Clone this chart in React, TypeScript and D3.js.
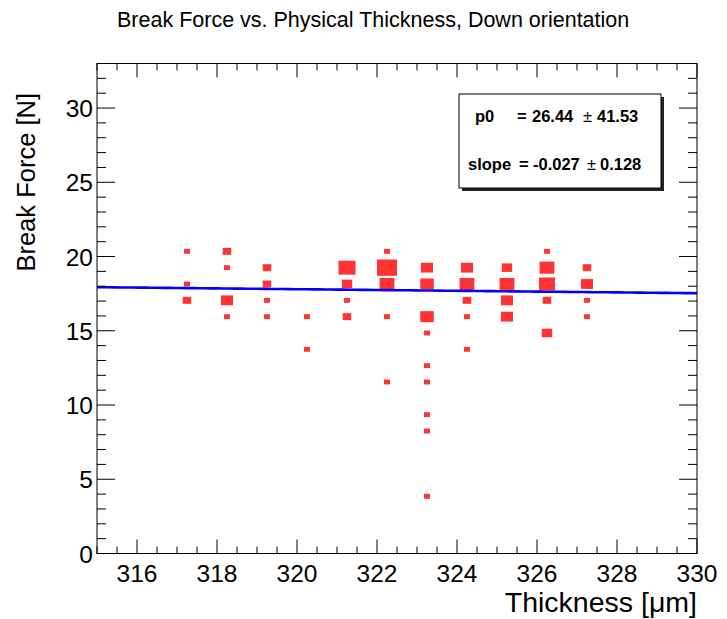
import React from 'react';
import * as d3 from 'd3';

const TITLE = 'Break Force vs. Physical Thickness, Down orientation';
const X_TITLE = 'Thickness [\u03bcm]';
const Y_TITLE = 'Break Force [N]';

const xDomain = [315, 330];
const yDomain = [0, 33];
const xBinWidth = 0.5;
const yBinWidth = 1.1;

const xTicks = [316, 318, 320, 322, 324, 326, 328, 330];
const yTicks = [0, 5, 10, 15, 20, 25, 30];

const cellThickness = [
  317.25, 317.25, 317.25,
  318.25, 318.25, 318.25, 318.25,
  319.25, 319.25, 319.25, 319.25,
  320.25, 320.25,
  321.25, 321.25, 321.25, 321.25,
  322.25, 322.25, 322.25, 322.25, 322.25,
  323.25, 323.25, 323.25, 323.25, 323.25, 323.25, 323.25, 323.25, 323.25,
  324.25, 324.25, 324.25, 324.25, 324.25,
  325.25, 325.25, 325.25, 325.25,
  326.25, 326.25, 326.25, 326.25, 326.25,
  327.25, 327.25, 327.25, 327.25,
];
const cellForce = [
  20.35, 18.15, 17.05,
  20.35, 19.25, 17.05, 15.95,
  19.25, 18.15, 17.05, 15.95,
  15.95, 13.75,
  19.25, 18.15, 17.05, 15.95,
  20.35, 19.25, 18.15, 15.95, 11.55,
  19.25, 18.15, 15.95, 14.85, 12.65, 11.55, 9.35, 8.25, 3.85,
  19.25, 18.15, 17.05, 15.95, 13.75,
  19.25, 18.15, 17.05, 15.95,
  20.35, 19.25, 18.15, 17.05, 14.85,
  19.25, 18.15, 17.05, 15.95,
];
const cellCount = [
  1, 1, 2,
  2, 1, 4, 1,
  2, 2, 1, 1,
  1, 1,
  8, 3, 1, 2,
  1, 11, 6, 1, 1,
  4, 5, 5, 1, 1, 1, 1, 1, 1,
  4, 6, 2, 1, 1,
  3, 6, 4, 4,
  1, 6, 7, 2, 3,
  2, 4, 1, 1,
];

const fitP0 = 26.44;
const fitSlope = -0.027;
const statNames = ['p0', 'slope'];
const statValues = ['26.44', '-0.027'];
const statErrors = ['41.53', '0.128'];

const W = 727;
const H = 619;
const M = { left: 97, right: 697, top: 63.5, bottom: 553.5 };

// text placement inside the stats box (layout only)
const statRowY = [122, 170];
const statNameX = [475, 468];
const statEqX = [517, 519];
const statValX = [532, 533];
const statPmX = [583, 587];
const statErrX = [597, 600];

export default function App() {
  const x = d3.scaleLinear().domain(xDomain).range([M.left, M.right]);
  const y = d3.scaleLinear().domain(yDomain).range([M.bottom, M.top]);
  const maxCount = d3.max(cellCount) as number;

  const xMinor = d3.range(xDomain[0], xDomain[1] + 0.001, 0.5);
  const yMinor = d3.range(yDomain[0], yDomain[1] + 0.001, 1);

  const line = d3.line<number>().x((d) => x(d)).y((d) => y(fitP0 + fitSlope * d));
  const fitXs = d3.range(xDomain[0], xDomain[1] + 0.001, 0.15);

  const font = 'Liberation Sans, Arial, Helvetica, sans-serif';
  const bw = x(xDomain[0] + xBinWidth) - x(xDomain[0]);
  const bh = y(0) - y(yBinWidth);

  const xMajLen = 14, xMinLen = 7, yMajLen = 18, yMinLen = 9;

  return (
    <svg width={W} height={H} style={{ position: 'absolute', left: 0, top: 0, background: '#fff' }}>
      <rect x={0} y={0} width={W} height={H} fill="#fff" />
      <text x={117} y={27} fontFamily={font} fontSize={21.5} fill="#000">{TITLE}</text>

      {cellCount.map((c, i) => {
        const r = Math.sqrt(c / maxCount);
        const w = bw * r, h = bh * r;
        return (
          <rect key={i} x={x(cellThickness[i]) - w / 2} y={y(cellForce[i]) - h / 2}
            width={w} height={h} fill="#ff3333" />
        );
      })}

      <path d={line(fitXs) || ''} fill="none" stroke="#0000ff" strokeWidth={2.6} />

      <rect x={M.left} y={M.top} width={M.right - M.left} height={M.bottom - M.top}
        fill="none" stroke="#000" strokeWidth={1} />

      {xMinor.map((v, i) => {
        const major = Math.abs(v - Math.round(v)) < 1e-6 && Math.round(v) % 2 === 0;
        const len = major ? xMajLen : xMinLen;
        return (
          <g key={'xt' + i}>
            <line x1={x(v)} x2={x(v)} y1={M.bottom} y2={M.bottom - len} stroke="#000" />
            <line x1={x(v)} x2={x(v)} y1={M.top} y2={M.top + len} stroke="#000" />
          </g>
        );
      })}
      {yMinor.map((v, i) => {
        const major = v % 5 === 0;
        const len = major ? yMajLen : yMinLen;
        return (
          <g key={'yt' + i}>
            <line x1={M.left} x2={M.left + len} y1={y(v)} y2={y(v)} stroke="#000" />
            <line x1={M.right} x2={M.right - len} y1={y(v)} y2={y(v)} stroke="#000" />
          </g>
        );
      })}

      {xTicks.map((v) => (
        <text key={'xl' + v} x={x(v)} y={582} textAnchor="middle" fontFamily={font} fontSize={24.5}>{v}</text>
      ))}
      {yTicks.map((v) => (
        <text key={'yl' + v} x={93} y={y(v) + 9} textAnchor="end" fontFamily={font} fontSize={24.5}>{v}</text>
      ))}

      <text x={M.right} y={612} textAnchor="end" fontFamily={font} fontSize={28.5}>{X_TITLE}</text>
      <text transform={`translate(35, 93) rotate(-90)`} textAnchor="end" fontFamily={font} fontSize={25.5}>{Y_TITLE}</text>

      <rect x={462} y={97} width={202} height={94} fill="#222" />
      <rect x={459} y={94} width={202} height={94} fill="#fff" stroke="#000" strokeWidth={1} />
      {statNames.map((n, i) => (
        <g key={'st' + i} fontFamily={font} fontWeight="bold" fontSize={16.5}>
          <text x={statNameX[i]} y={statRowY[i]}>{n}</text>
          <text x={statEqX[i]} y={statRowY[i]}>=</text>
          <text x={statValX[i]} y={statRowY[i]}>{statValues[i]}</text>
          <text x={statPmX[i]} y={statRowY[i]} fontWeight="normal">{'\u00b1'}</text>
          <text x={statErrX[i]} y={statRowY[i]}>{statErrors[i]}</text>
        </g>
      ))}
    </svg>
  );
}
